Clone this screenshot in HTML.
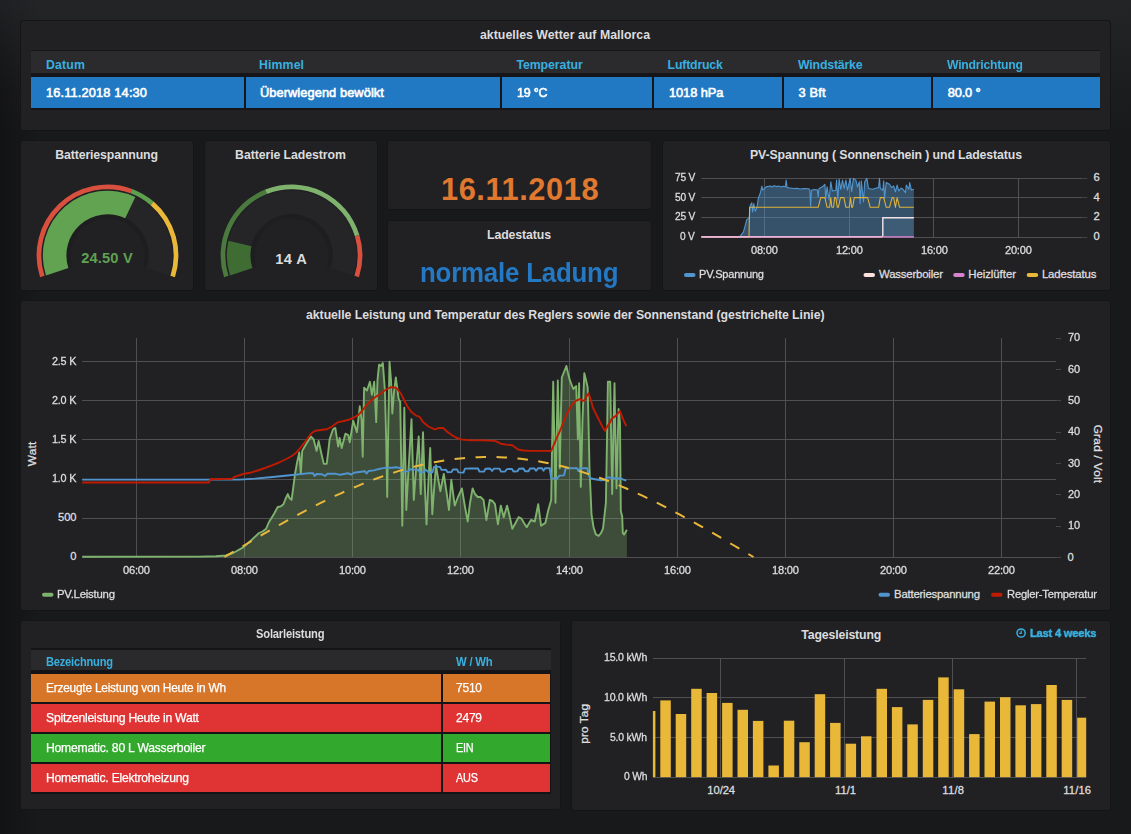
<!DOCTYPE html>
<html lang="de"><head><meta charset="utf-8"><title>Solar Dashboard</title>
<style>
html,body{margin:0;padding:0}
body{width:1131px;height:834px;overflow:hidden;position:relative;background:#17181a;font-family:"Liberation Sans",sans-serif;color:#d8d9da}
.bg{position:absolute;left:0;top:0;width:1131px;height:834px;background:linear-gradient(180deg,#232426 6px,#18191b 135px)}
.bl{position:absolute;left:0;top:0;width:40px;height:834px;background:linear-gradient(90deg,rgba(16,16,18,.62) 0px,rgba(16,16,18,0) 36px);-webkit-mask-image:linear-gradient(180deg,rgba(0,0,0,.25) 0,#000 90px);mask-image:linear-gradient(180deg,rgba(0,0,0,.25) 0,#000 90px)}
.p{position:absolute;background:#212124;border:1px solid #151517;border-radius:3px;box-sizing:border-box}
.t{position:absolute;white-space:pre;line-height:1}
.c{position:absolute}
svg{position:absolute;left:0;top:0;overflow:visible}
</style></head><body><div class="bg"></div><div class="bl"></div>
<div class="p" style="left:20px;top:19.5px;width:1091px;height:111px"></div>
<div class="p" style="left:20px;top:140px;width:174px;height:150.5px"></div>
<div class="p" style="left:204px;top:140px;width:174px;height:150.5px"></div>
<div class="p" style="left:387px;top:140px;width:265px;height:70.2px"></div>
<div class="p" style="left:387px;top:220px;width:265px;height:70.5px"></div>
<div class="p" style="left:662px;top:140px;width:449px;height:150.5px"></div>
<div class="p" style="left:20px;top:300px;width:1091px;height:310.5px"></div>
<div class="p" style="left:20px;top:620px;width:541px;height:190.4px"></div>
<div class="p" style="left:571px;top:620px;width:540px;height:190.6px"></div>
<div class="c" style="left:31px;top:49.6px;width:1069px;height:60.4px;background:#161618"></div>
<div class="c" style="left:31px;top:50.7px;width:1069px;height:22.8px;background:#2b2b2e"></div>
<div class="c" style="left:31px;top:77px;width:213px;height:31px;background:#2179c4"></div>
<div class="c" style="left:246px;top:77px;width:254px;height:31px;background:#2179c4"></div>
<div class="c" style="left:502px;top:77px;width:150px;height:31px;background:#2179c4"></div>
<div class="c" style="left:654.3px;top:77px;width:127.70000000000005px;height:31px;background:#2179c4"></div>
<div class="c" style="left:784.2px;top:77px;width:146.79999999999995px;height:31px;background:#2179c4"></div>
<div class="c" style="left:933.3px;top:77px;width:166.70000000000005px;height:31px;background:#2179c4"></div>
<div class="c" style="left:31px;top:648px;width:519.5px;height:146px;background:#141416"></div>
<div class="c" style="left:31px;top:650px;width:519.5px;height:19.7px;background:#2a2a2d"></div>
<div class="c" style="left:31px;top:674px;width:409.8px;height:28px;background:#d77628"></div>
<div class="c" style="left:443px;top:674px;width:107.4px;height:28px;background:#d77628"></div>
<div class="c" style="left:31px;top:704px;width:409.8px;height:28px;background:#e03434"></div>
<div class="c" style="left:443px;top:704px;width:107.4px;height:28px;background:#e03434"></div>
<div class="c" style="left:31px;top:734px;width:409.8px;height:28px;background:#32a82d"></div>
<div class="c" style="left:443px;top:734px;width:107.4px;height:28px;background:#32a82d"></div>
<div class="c" style="left:31px;top:764px;width:409.8px;height:28px;background:#e03434"></div>
<div class="c" style="left:443px;top:764px;width:107.4px;height:28px;background:#e03434"></div>
<svg width="1131" height="834" viewBox="0 0 1131 834">
<defs><radialGradient id="gsh" cx="50%" cy="50%" r="50%"><stop offset="0.55" stop-color="#1e1e20"/><stop offset="0.62" stop-color="#27272a"/><stop offset="0.93" stop-color="#262629"/><stop offset="1" stop-color="#1f1f22"/></radialGradient></defs>
<path d="M45.97,275.39 A64.7,64.7 0 1 1 169.03,275.39 L146.59,268.10 A41.1,41.1 0 1 0 68.41,268.10 Z" fill="#252528"/>
<path d="M68.41,268.10 A41.1,41.1 0 1 1 146.59,268.10 L142.78,266.86 A37.1,37.1 0 1 0 72.22,266.86 Z" fill="#1e1e21"/>
<path d="M45.97,275.39 A64.7,64.7 0 0 1 135.35,197.00 L125.19,218.30 A41.1,41.1 0 0 0 68.41,268.10 Z" fill="#61a351"/>
<path d="M40.07,277.31 A70.9,70.9 0 0 1 132.10,188.90 L130.47,193.31 A66.2,66.2 0 0 0 44.54,275.86 Z" fill="#d9503f"/>
<path d="M132.10,188.90 A70.9,70.9 0 0 1 153.64,201.57 L150.58,205.14 A66.2,66.2 0 0 0 130.47,193.31 Z" fill="#5fa04e"/>
<path d="M153.64,201.57 A70.9,70.9 0 0 1 174.93,277.31 L170.46,275.86 A66.2,66.2 0 0 0 150.58,205.14 Z" fill="#eab839"/>
<path d="M229.97,275.39 A64.7,64.7 0 1 1 353.03,275.39 L330.59,268.10 A41.1,41.1 0 1 0 252.41,268.10 Z" fill="#252528"/>
<path d="M252.41,268.10 A41.1,41.1 0 1 1 330.59,268.10 L326.78,266.86 A37.1,37.1 0 1 0 256.22,266.86 Z" fill="#1e1e21"/>
<path d="M229.97,275.39 A64.7,64.7 0 0 1 228.46,240.85 L251.45,246.15 A41.1,41.1 0 0 0 252.41,268.10 Z" fill="#3f6c33"/>
<path d="M224.07,277.31 A70.9,70.9 0 0 1 265.17,189.57 L266.92,193.93 A66.2,66.2 0 0 0 228.54,275.86 Z" fill="#4a7a3e"/>
<path d="M265.17,189.57 A70.9,70.9 0 0 1 359.37,234.91 L354.87,236.27 A66.2,66.2 0 0 0 266.92,193.93 Z" fill="#7eb26d"/>
<path d="M359.37,234.91 A70.9,70.9 0 0 1 358.93,277.31 L354.46,275.86 A66.2,66.2 0 0 0 354.87,236.27 Z" fill="#d9503f"/>
<line x1="701.3" y1="178.5" x2="1082.5" y2="178.5" stroke="#505053" stroke-width="1"/><line x1="1082.5" y1="178.5" x2="1087.5" y2="178.5" stroke="#505053" stroke-width="1" opacity=".7"/>
<line x1="701.3" y1="197.5" x2="1082.5" y2="197.5" stroke="#505053" stroke-width="1"/><line x1="1082.5" y1="197.5" x2="1087.5" y2="197.5" stroke="#505053" stroke-width="1" opacity=".7"/>
<line x1="701.3" y1="217.5" x2="1082.5" y2="217.5" stroke="#505053" stroke-width="1"/><line x1="1082.5" y1="217.5" x2="1087.5" y2="217.5" stroke="#505053" stroke-width="1" opacity=".7"/>
<line x1="701.3" y1="237.5" x2="1082.5" y2="237.5" stroke="#505053" stroke-width="1"/><line x1="1082.5" y1="237.5" x2="1087.5" y2="237.5" stroke="#505053" stroke-width="1" opacity=".7"/>
<line x1="764.5" y1="178.1" x2="764.5" y2="237.0" stroke="#505053" stroke-width="1"/>
<line x1="849.5" y1="178.1" x2="849.5" y2="237.0" stroke="#505053" stroke-width="1"/>
<line x1="933.5" y1="178.1" x2="933.5" y2="237.0" stroke="#505053" stroke-width="1"/>
<line x1="1018.5" y1="178.1" x2="1018.5" y2="237.0" stroke="#505053" stroke-width="1"/>
<path d="M701.3,237.0 L738.0,237.0 L740.0,236.4 L743.4,232.2 L746.8,219.6 L749.3,217.9 L750.1,206.1 L751.8,202.8 L752.6,212.0 L753.8,203.6 L755.2,211.2 L756.8,207.8 L758.5,197.7 L760.2,193.5 L761.9,186.0 L762.7,190.2 L765.2,187.6 L767.0,186.6 L770.3,186.0 L772.0,187.0 L774.0,185.6 L776.0,186.6 L778.7,186.0 L781.0,187.0 L783.0,186.2 L785.4,186.8 L786.2,180.1 L787.1,187.6 L790.0,188.0 L793.8,188.5 L797.0,188.2 L800.0,189.0 L804.0,188.6 L808.9,188.8 L809.8,189.8 L810.6,206.1 L811.4,190.2 L814.0,189.6 L817.3,189.8 L818.2,196.9 L819.0,188.5 L822.4,186.8 L824.9,184.3 L825.7,198.6 L827.1,186.8 L829.1,200.2 L830.8,181.8 L832.4,191.0 L835.8,190.2 L836.6,180.1 L837.8,200.2 L839.1,179.2 L840.8,189.3 L842.5,180.1 L844.2,188.5 L845.9,180.1 L847.5,190.2 L850.1,178.4 L851.7,191.8 L853.4,178.4 L855.9,180.1 L857.5,187.0 L859.3,181.8 L860.1,203.6 L861.3,180.9 L863.5,201.9 L864.7,181.8 L866.9,178.4 L868.5,188.5 L872.7,189.3 L875.5,188.2 L878.6,187.6 L879.5,178.4 L880.3,188.5 L882.8,190.2 L883.7,180.9 L884.5,198.6 L886.2,182.6 L889.5,184.3 L891.5,187.5 L893.7,186.0 L895.4,191.8 L897.1,185.1 L898.8,191.0 L901.0,188.0 L903.0,189.3 L905.5,192.7 L906.3,185.1 L908.9,189.3 L909.7,182.6 L911.4,190.2 L913.9,189.3 L913.9,237 L701.3,237 Z" fill="rgba(81,149,206,0.42)"/>
<path d="M882.8,237 L882.8,217.6 L913.9,217.6 L913.9,237 Z" fill="rgba(150,190,230,0.10)"/>
<path d="M701.3,237.0 L738.0,237.0 L740.0,236.4 L743.4,232.2 L746.8,219.6 L749.3,217.9 L750.1,206.1 L751.8,202.8 L752.6,212.0 L753.8,203.6 L755.2,211.2 L756.8,207.8 L758.5,197.7 L760.2,193.5 L761.9,186.0 L762.7,190.2 L765.2,187.6 L767.0,186.6 L770.3,186.0 L772.0,187.0 L774.0,185.6 L776.0,186.6 L778.7,186.0 L781.0,187.0 L783.0,186.2 L785.4,186.8 L786.2,180.1 L787.1,187.6 L790.0,188.0 L793.8,188.5 L797.0,188.2 L800.0,189.0 L804.0,188.6 L808.9,188.8 L809.8,189.8 L810.6,206.1 L811.4,190.2 L814.0,189.6 L817.3,189.8 L818.2,196.9 L819.0,188.5 L822.4,186.8 L824.9,184.3 L825.7,198.6 L827.1,186.8 L829.1,200.2 L830.8,181.8 L832.4,191.0 L835.8,190.2 L836.6,180.1 L837.8,200.2 L839.1,179.2 L840.8,189.3 L842.5,180.1 L844.2,188.5 L845.9,180.1 L847.5,190.2 L850.1,178.4 L851.7,191.8 L853.4,178.4 L855.9,180.1 L857.5,187.0 L859.3,181.8 L860.1,203.6 L861.3,180.9 L863.5,201.9 L864.7,181.8 L866.9,178.4 L868.5,188.5 L872.7,189.3 L875.5,188.2 L878.6,187.6 L879.5,178.4 L880.3,188.5 L882.8,190.2 L883.7,180.9 L884.5,198.6 L886.2,182.6 L889.5,184.3 L891.5,187.5 L893.7,186.0 L895.4,191.8 L897.1,185.1 L898.8,191.0 L901.0,188.0 L903.0,189.3 L905.5,192.7 L906.3,185.1 L908.9,189.3 L909.7,182.6 L911.4,190.2 L913.9,189.3" fill="none" stroke="#5195ce" stroke-width="1.1" stroke-linejoin="round"/>
<path d="M701.3,237.0 L749.0,237.0 L749.6,207.3 L818.2,207.3 L820.7,197.6 L824.9,197.6 L827.1,207.3 L829.6,207.3 L830.8,197.6 L831.8,207.3 L833.6,207.3 L834.6,197.6 L835.8,197.6 L837.3,207.3 L838.3,207.3 L840.5,197.6 L843.9,197.6 L845.9,207.3 L849.2,207.3 L850.6,197.6 L851.6,207.3 L852.6,207.3 L854.3,197.6 L867.7,197.6 L870.2,207.3 L878.6,207.3 L880.3,197.6 L883.7,197.6 L886.2,207.3 L889.5,207.3 L892.1,197.6 L893.7,197.6 L895.4,207.3 L897.1,197.6 L899.6,207.3 L913.9,207.3" fill="none" stroke="#dfb33b" stroke-width="1.05" stroke-linejoin="round"/>
<path d="M882.8,237 L882.8,217.7 L913.9,217.7" fill="none" stroke="#f3e4ea" stroke-width="1.4"/>
<path d="M701.3,236.9 L882.8,236.9" fill="none" stroke="#eeb2d8" stroke-width="1.6"/>
<path d="M883.4,236.9 L913.9,236.9" fill="none" stroke="#c681c6" stroke-width="1.6"/>
<rect x="684" y="272.9" width="11.5" height="4" rx="2" fill="#5195ce"/>
<rect x="863.5" y="272.9" width="11.5" height="4" rx="2" fill="#fce2de"/>
<rect x="953.2" y="272.9" width="11.5" height="4" rx="2" fill="#d683ce"/>
<rect x="1026.7" y="272.9" width="11.5" height="4" rx="2" fill="#eab839"/>
<line x1="82.2" y1="557.5" x2="1056.0" y2="557.5" stroke="#505053" stroke-width="1"/>
<line x1="82.2" y1="518.5" x2="1056.0" y2="518.5" stroke="#505053" stroke-width="1"/>
<line x1="82.2" y1="479.5" x2="1056.0" y2="479.5" stroke="#505053" stroke-width="1"/>
<line x1="82.2" y1="439.5" x2="1056.0" y2="439.5" stroke="#505053" stroke-width="1"/>
<line x1="82.2" y1="400.5" x2="1056.0" y2="400.5" stroke="#505053" stroke-width="1"/>
<line x1="82.2" y1="361.5" x2="1056.0" y2="361.5" stroke="#505053" stroke-width="1"/>
<line x1="1056.0" y1="557.5" x2="1061.0" y2="557.5" stroke="#505053" stroke-width="1" opacity=".8"/>
<line x1="1056.0" y1="526.5" x2="1061.0" y2="526.5" stroke="#505053" stroke-width="1" opacity=".8"/>
<line x1="1056.0" y1="494.5" x2="1061.0" y2="494.5" stroke="#505053" stroke-width="1" opacity=".8"/>
<line x1="1056.0" y1="463.5" x2="1061.0" y2="463.5" stroke="#505053" stroke-width="1" opacity=".8"/>
<line x1="1056.0" y1="432.5" x2="1061.0" y2="432.5" stroke="#505053" stroke-width="1" opacity=".8"/>
<line x1="1056.0" y1="400.5" x2="1061.0" y2="400.5" stroke="#505053" stroke-width="1" opacity=".8"/>
<line x1="1056.0" y1="369.5" x2="1061.0" y2="369.5" stroke="#505053" stroke-width="1" opacity=".8"/>
<line x1="1056.0" y1="338.5" x2="1061.0" y2="338.5" stroke="#505053" stroke-width="1" opacity=".8"/>
<line x1="136.5" y1="338.0" x2="136.5" y2="557.3" stroke="#505053" stroke-width="1"/>
<line x1="244.5" y1="338.0" x2="244.5" y2="557.3" stroke="#505053" stroke-width="1"/>
<line x1="352.5" y1="338.0" x2="352.5" y2="557.3" stroke="#505053" stroke-width="1"/>
<line x1="460.5" y1="338.0" x2="460.5" y2="557.3" stroke="#505053" stroke-width="1"/>
<line x1="569.5" y1="338.0" x2="569.5" y2="557.3" stroke="#505053" stroke-width="1"/>
<line x1="677.5" y1="338.0" x2="677.5" y2="557.3" stroke="#505053" stroke-width="1"/>
<line x1="785.5" y1="338.0" x2="785.5" y2="557.3" stroke="#505053" stroke-width="1"/>
<line x1="893.5" y1="338.0" x2="893.5" y2="557.3" stroke="#505053" stroke-width="1"/>
<line x1="1001.5" y1="338.0" x2="1001.5" y2="557.3" stroke="#505053" stroke-width="1"/>
<path d="M82.2,556.8 L200.0,556.6 L216.0,556.2 L225.9,555.5 L234.0,552.5 L243.2,547.4 L251.0,540.5 L259.0,533.0 L262.5,531.5 L266.2,528.7 L269.0,522.0 L272.0,517.2 L274.5,513.0 L277.7,507.0 L280.5,506.5 L283.5,504.2 L285.5,499.0 L287.8,494.1 L289.5,498.0 L291.6,499.9 L293.2,488.0 L295.0,474.0 L297.2,462.0 L299.3,452.4 L300.8,474.0 L302.2,450.9 L305.0,446.0 L308.0,441.0 L310.9,436.5 L313.7,439.4 L316.6,450.9 L318.6,440.9 L321.0,452.0 L323.8,463.9 L326.7,463.9 L328.2,452.0 L329.6,439.4 L333.0,429.3 L335.3,427.9 L338.2,446.6 L339.6,438.0 L341.7,448.0 L343.5,441.0 L345.4,433.7 L348.3,435.1 L349.7,442.3 L353.2,420.7 L356.9,432.2 L359.8,406.3 L361.6,420.0 L362.7,456.7 L364.1,387.6 L367.0,390.5 L369.9,381.8 L371.9,394.8 L374.2,381.8 L376.2,422.1 L377.5,380.0 L379.1,364.6 L381.0,366.0 L382.8,363.1 L384.9,390.5 L386.2,440.0 L387.2,497.0 L388.4,420.0 L389.5,361.7 L391.0,380.0 L392.3,413.5 L394.0,392.0 L395.8,377.5 L398.7,399.1 L400.2,402.0 L402.3,525.8 L404.3,407.7 L406.3,510.0 L408.5,470.0 L411.5,419.3 L413.8,499.9 L416.0,470.0 L418.7,436.5 L420.7,494.1 L423.0,432.2 L424.6,480.0 L426.5,524.4 L428.5,480.0 L430.2,448.0 L432.3,514.3 L434.0,490.0 L436.0,465.3 L438.0,478.0 L440.3,491.2 L443.8,474.0 L446.5,492.0 L449.0,510.0 L451.3,479.7 L454.7,505.6 L458.0,497.0 L461.9,488.4 L465.0,507.0 L467.7,521.5 L470.0,503.0 L472.6,488.4 L475.0,494.0 L477.7,497.0 L480.5,497.0 L483.5,499.9 L486.4,520.0 L489.8,499.9 L492.5,501.0 L495.0,504.2 L497.9,524.4 L500.8,505.6 L503.7,517.2 L507.1,505.6 L509.8,517.0 L512.3,528.7 L515.5,523.0 L518.6,517.2 L521.5,518.6 L524.0,523.0 L526.7,527.2 L531.0,520.0 L534.8,521.5 L538.2,504.2 L541.1,525.8 L545.4,522.9 L548.3,510.0 L551.2,499.9 L552.2,440.0 L553.2,381.8 L554.4,440.0 L555.5,502.8 L556.6,440.0 L557.8,380.4 L559.8,468.2 L560.8,420.0 L561.8,377.5 L564.0,372.0 L566.4,366.0 L568.0,373.0 L569.9,380.4 L573.3,389.0 L576.2,386.1 L577.9,439.4 L579.1,383.3 L580.8,486.9 L582.5,420.0 L584.3,373.2 L586.0,380.0 L587.7,387.6 L589.5,468.2 L591.5,514.3 L593.5,527.0 L595.8,534.4 L598.7,535.9 L601.0,533.0 L603.0,528.7 L605.9,502.8 L607.0,440.0 L607.9,381.8 L610.2,381.8 L611.2,440.0 L612.2,494.1 L613.3,440.0 L614.5,383.3 L615.5,440.0 L616.5,488.4 L617.5,450.3 L618.6,409.0 L620.0,422.8 L620.8,511.0 L622.2,516.6 L622.8,533.1 L624.1,534.5 L626.9,529.8 L626.9,557 L82.2,557 Z" fill="rgba(126,178,109,0.31)"/>
<path d="M82.2,556.8 L200.0,556.6 L216.0,556.2 L225.9,555.5 L234.0,552.5 L243.2,547.4 L251.0,540.5 L259.0,533.0 L262.5,531.5 L266.2,528.7 L269.0,522.0 L272.0,517.2 L274.5,513.0 L277.7,507.0 L280.5,506.5 L283.5,504.2 L285.5,499.0 L287.8,494.1 L289.5,498.0 L291.6,499.9 L293.2,488.0 L295.0,474.0 L297.2,462.0 L299.3,452.4 L300.8,474.0 L302.2,450.9 L305.0,446.0 L308.0,441.0 L310.9,436.5 L313.7,439.4 L316.6,450.9 L318.6,440.9 L321.0,452.0 L323.8,463.9 L326.7,463.9 L328.2,452.0 L329.6,439.4 L333.0,429.3 L335.3,427.9 L338.2,446.6 L339.6,438.0 L341.7,448.0 L343.5,441.0 L345.4,433.7 L348.3,435.1 L349.7,442.3 L353.2,420.7 L356.9,432.2 L359.8,406.3 L361.6,420.0 L362.7,456.7 L364.1,387.6 L367.0,390.5 L369.9,381.8 L371.9,394.8 L374.2,381.8 L376.2,422.1 L377.5,380.0 L379.1,364.6 L381.0,366.0 L382.8,363.1 L384.9,390.5 L386.2,440.0 L387.2,497.0 L388.4,420.0 L389.5,361.7 L391.0,380.0 L392.3,413.5 L394.0,392.0 L395.8,377.5 L398.7,399.1 L400.2,402.0 L402.3,525.8 L404.3,407.7 L406.3,510.0 L408.5,470.0 L411.5,419.3 L413.8,499.9 L416.0,470.0 L418.7,436.5 L420.7,494.1 L423.0,432.2 L424.6,480.0 L426.5,524.4 L428.5,480.0 L430.2,448.0 L432.3,514.3 L434.0,490.0 L436.0,465.3 L438.0,478.0 L440.3,491.2 L443.8,474.0 L446.5,492.0 L449.0,510.0 L451.3,479.7 L454.7,505.6 L458.0,497.0 L461.9,488.4 L465.0,507.0 L467.7,521.5 L470.0,503.0 L472.6,488.4 L475.0,494.0 L477.7,497.0 L480.5,497.0 L483.5,499.9 L486.4,520.0 L489.8,499.9 L492.5,501.0 L495.0,504.2 L497.9,524.4 L500.8,505.6 L503.7,517.2 L507.1,505.6 L509.8,517.0 L512.3,528.7 L515.5,523.0 L518.6,517.2 L521.5,518.6 L524.0,523.0 L526.7,527.2 L531.0,520.0 L534.8,521.5 L538.2,504.2 L541.1,525.8 L545.4,522.9 L548.3,510.0 L551.2,499.9 L552.2,440.0 L553.2,381.8 L554.4,440.0 L555.5,502.8 L556.6,440.0 L557.8,380.4 L559.8,468.2 L560.8,420.0 L561.8,377.5 L564.0,372.0 L566.4,366.0 L568.0,373.0 L569.9,380.4 L573.3,389.0 L576.2,386.1 L577.9,439.4 L579.1,383.3 L580.8,486.9 L582.5,420.0 L584.3,373.2 L586.0,380.0 L587.7,387.6 L589.5,468.2 L591.5,514.3 L593.5,527.0 L595.8,534.4 L598.7,535.9 L601.0,533.0 L603.0,528.7 L605.9,502.8 L607.0,440.0 L607.9,381.8 L610.2,381.8 L611.2,440.0 L612.2,494.1 L613.3,440.0 L614.5,383.3 L615.5,440.0 L616.5,488.4 L617.5,450.3 L618.6,409.0 L620.0,422.8 L620.8,511.0 L622.2,516.6 L622.8,533.1 L624.1,534.5 L626.9,529.8" fill="none" stroke="#7eb26d" stroke-width="1.9" stroke-linejoin="round"/>
<path d="M82.2,479.6 L240.0,479.6 L255.0,478.6 L270.0,477.2 L285.0,475.8 L295.0,474.8 L309.4,473.1 L313.0,473.2 L314.5,476.0 L316.5,474.0 L322.0,474.2 L325.0,476.0 L327.5,473.8 L335.0,473.6 L340.0,474.8 L344.0,474.0 L348.0,473.2 L351.0,474.6 L354.0,472.8 L361.0,471.7 L365.0,471.2 L366.5,473.6 L368.5,471.0 L374.0,470.4 L378.0,469.2 L382.0,468.4 L387.0,467.6 L392.0,467.8 L396.0,467.2 L401.6,468.2 L403.5,471.6 L408.0,471.4 L410.0,469.2 L414.4,469.6 L418.0,469.8 L420.0,472.4 L423.5,472.2 L425.5,469.6 L428.8,472.5 L432.5,472.3 L434.0,467.0 L436.0,466.8 L440.0,466.9 L441.5,469.9 L446.0,469.7 L447.5,472.2 L451.5,472.0 L453.0,469.5 L457.0,469.4 L458.5,472.4 L463.5,472.6 L465.0,468.6 L470.0,468.4 L478.0,468.5 L479.5,471.6 L484.0,471.6 L485.5,468.7 L490.0,468.5 L492.0,470.9 L494.0,468.6 L499.5,468.6 L501.0,471.6 L505.0,471.5 L507.0,469.1 L512.0,468.9 L513.5,471.5 L517.5,471.3 L519.0,468.7 L523.5,468.5 L525.0,471.2 L528.5,471.2 L530.0,468.5 L534.5,468.5 L536.0,470.8 L538.0,468.3 L542.0,468.3 L543.5,470.7 L545.0,468.3 L549.7,468.2 L551.2,478.3 L557.0,478.6 L559.5,475.6 L564.1,475.4 L565.5,469.0 L567.0,468.2 L577.0,468.2 L578.4,471.0 L580.0,468.2 L587.2,468.2 L588.6,474.0 L590.0,478.3 L595.0,479.2 L601.6,480.3 L604.5,479.8 L607.3,477.4 L612.0,477.8 L615.0,478.5 L620.0,478.3 L626.3,480.7" fill="none" stroke="#5195ce" stroke-width="1.9" stroke-linejoin="round"/>
<path d="M82.2,482.5 L209.0,482.5 L210.5,479.2 L232.0,478.8 L234.6,476.8 L243.2,474.0 L250.0,472.8 L257.6,470.5 L265.0,468.0 L272.0,465.3 L279.0,462.5 L286.4,459.0 L291.0,456.5 L295.0,453.8 L299.5,449.0 L303.7,443.7 L307.5,438.5 L310.9,433.7 L315.2,430.8 L321.0,430.0 L326.7,429.3 L332.0,426.5 L338.2,422.1 L344.0,421.0 L349.7,419.3 L354.0,417.5 L358.4,414.9 L362.0,411.0 L365.6,406.3 L369.0,402.5 L372.8,399.1 L377.0,396.0 L381.4,393.3 L384.5,390.5 L387.2,389.0 L391.0,387.2 L395.8,387.6 L398.5,390.5 L401.6,394.8 L404.3,400.5 L407.3,406.3 L411.5,412.1 L416.0,415.5 L420.0,417.2 L423.0,422.1 L428.5,426.5 L434.6,429.3 L439.0,428.0 L443.2,427.9 L447.5,432.0 L451.8,435.1 L456.0,437.5 L460.5,439.4 L470.0,440.2 L483.0,440.4 L495.0,440.9 L500.8,443.7 L506.5,444.6 L512.3,445.2 L518.0,449.5 L523.5,450.5 L529.6,450.9 L540.0,450.9 L551.2,450.9 L555.5,440.9 L558.5,434.0 L561.2,427.9 L564.0,420.5 L567.0,413.5 L570.0,408.0 L572.8,403.4 L576.5,400.5 L580.0,399.1 L582.3,400.8 L584.3,400.5 L586.5,396.5 L588.6,393.3 L590.8,400.0 L592.9,407.7 L596.5,415.0 L600.1,422.1 L602.6,427.0 L605.0,430.8 L607.5,426.0 L610.2,422.1 L611.7,418.6 L615.9,415.9 L618.0,413.0 L620.0,411.2 L622.8,418.6 L626.3,426.1" fill="none" stroke="#bf1b00" stroke-width="1.9" stroke-linejoin="round"/>
<path d="M224.5,557.0 L229.8,553.9 L235.1,550.7 L240.4,547.6 L245.7,544.5 L250.9,541.4 L256.2,538.3 L261.5,535.2 L266.8,532.1 L272.1,529.1 L277.4,526.1 L282.7,523.1 L288.0,520.2 L293.3,517.3 L298.6,514.4 L303.9,511.6 L309.1,508.8 L314.4,506.1 L319.7,503.4 L325.0,500.8 L330.3,498.2 L335.6,495.7 L340.9,493.3 L346.2,490.9 L351.5,488.5 L356.8,486.3 L362.0,484.1 L367.3,482.0 L372.6,479.9 L377.9,478.0 L383.2,476.1 L388.5,474.3 L393.8,472.6 L399.1,470.9 L404.4,469.4 L409.6,467.9 L414.9,466.5 L420.2,465.2 L425.5,464.0 L430.8,462.9 L436.1,461.9 L441.4,461.0 L446.7,460.1 L452.0,459.4 L457.3,458.8 L462.6,458.2 L467.8,457.8 L473.1,457.4 L478.4,457.2 L483.7,457.0 L489.0,457.0 L494.3,457.0 L499.6,457.2 L504.9,457.4 L510.2,457.8 L515.5,458.2 L520.7,458.8 L526.0,459.4 L531.3,460.1 L536.6,461.0 L541.9,461.9 L547.2,462.9 L552.5,464.0 L557.8,465.2 L563.1,466.5 L568.4,467.9 L573.6,469.4 L578.9,470.9 L584.2,472.6 L589.5,474.3 L594.8,476.1 L600.1,478.0 L605.4,479.9 L610.7,482.0 L616.0,484.1 L621.2,486.3 L626.5,488.5 L631.8,490.9 L637.1,493.3 L642.4,495.7 L647.7,498.2 L653.0,500.8 L658.3,503.4 L663.6,506.1 L668.9,508.8 L674.1,511.6 L679.4,514.4 L684.7,517.3 L690.0,520.2 L695.3,523.1 L700.6,526.1 L705.9,529.1 L711.2,532.1 L716.5,535.2 L721.8,538.3 L727.0,541.4 L732.3,544.5 L737.6,547.6 L742.9,550.7 L748.2,553.9 L753.5,557.0" fill="none" stroke="#eab839" stroke-width="2" stroke-dasharray="10.5,10.5"/>
<rect x="42" y="592.7" width="11.5" height="4" rx="2" fill="#7eb26d"/>
<rect x="878.5" y="592.7" width="11.5" height="4" rx="2" fill="#5195ce"/>
<rect x="991" y="592.7" width="11.5" height="4" rx="2" fill="#bf1b00"/>
<line x1="652.9" y1="777.5" x2="1086.2" y2="777.5" stroke="#505053" stroke-width="1"/>
<line x1="652.9" y1="737.5" x2="1086.2" y2="737.5" stroke="#505053" stroke-width="1"/>
<line x1="652.9" y1="697.5" x2="1086.2" y2="697.5" stroke="#505053" stroke-width="1"/>
<line x1="652.9" y1="658.5" x2="1086.2" y2="658.5" stroke="#505053" stroke-width="1"/>
<line x1="720.5" y1="658.3" x2="720.5" y2="777.1" stroke="#505053" stroke-width="1"/>
<line x1="844.5" y1="658.3" x2="844.5" y2="777.1" stroke="#505053" stroke-width="1"/>
<line x1="952.5" y1="658.3" x2="952.5" y2="777.1" stroke="#505053" stroke-width="1"/>
<line x1="1076.5" y1="658.3" x2="1076.5" y2="777.1" stroke="#505053" stroke-width="1"/>
<rect x="652.9" y="711" width="2.5" height="66.1" fill="#eab839"/>
<rect x="660.3" y="700.4" width="10.5" height="76.7" fill="#eab839"/>
<rect x="675.7" y="714" width="10.5" height="63.1" fill="#eab839"/>
<rect x="691.2" y="688.8" width="10.5" height="88.3" fill="#eab839"/>
<rect x="706.6" y="693" width="10.5" height="84.1" fill="#eab839"/>
<rect x="722.1" y="702.9" width="10.5" height="74.2" fill="#eab839"/>
<rect x="737.5" y="709.8" width="10.5" height="67.3" fill="#eab839"/>
<rect x="752.9" y="720.9" width="10.5" height="56.2" fill="#eab839"/>
<rect x="768.4" y="765.5" width="10.5" height="11.6" fill="#eab839"/>
<rect x="783.8" y="720.7" width="10.5" height="56.4" fill="#eab839"/>
<rect x="799.3" y="742.2" width="10.5" height="34.9" fill="#eab839"/>
<rect x="814.7" y="694.2" width="10.5" height="82.9" fill="#eab839"/>
<rect x="830.1" y="722.9" width="10.5" height="54.2" fill="#eab839"/>
<rect x="845.6" y="743.7" width="10.5" height="33.4" fill="#eab839"/>
<rect x="861.0" y="736.3" width="10.5" height="40.8" fill="#eab839"/>
<rect x="876.5" y="688.8" width="10.5" height="88.3" fill="#eab839"/>
<rect x="891.9" y="707.1" width="10.5" height="70.0" fill="#eab839"/>
<rect x="907.3" y="724.4" width="10.5" height="52.7" fill="#eab839"/>
<rect x="922.8" y="699.9" width="10.5" height="77.2" fill="#eab839"/>
<rect x="938.2" y="677.4" width="10.5" height="99.7" fill="#eab839"/>
<rect x="953.7" y="689.3" width="10.5" height="87.8" fill="#eab839"/>
<rect x="969.1" y="734.1" width="10.5" height="43.0" fill="#eab839"/>
<rect x="984.5" y="701.6" width="10.5" height="75.5" fill="#eab839"/>
<rect x="1000.0" y="697.2" width="10.5" height="79.9" fill="#eab839"/>
<rect x="1015.4" y="705.3" width="10.5" height="71.8" fill="#eab839"/>
<rect x="1030.9" y="704.1" width="10.5" height="73.0" fill="#eab839"/>
<rect x="1046.3" y="685" width="10.5" height="92.1" fill="#eab839"/>
<rect x="1061.7" y="699.9" width="10.5" height="77.2" fill="#eab839"/>
<rect x="1077.2" y="717.7" width="9.0" height="59.4" fill="#eab839"/>
<circle cx="1021.1" cy="633" r="4.1" fill="none" stroke="#38b0e0" stroke-width="1.5"/><path d="M1021.2,630.5 L1021.2,633.3 L1019.3,633.3" fill="none" stroke="#38b0e0" stroke-width="1.2"/>
</svg>
<div class="t" style="left:480.00px;top:29.15px;font-size:12.3px;color:#dcdcde;letter-spacing:0.026px;font-weight:700;">aktuelles Wetter auf Mallorca</div>
<div class="t" style="left:55.25px;top:149.15px;font-size:12.3px;color:#dcdcde;letter-spacing:-0.123px;font-weight:700;">Batteriespannung</div>
<div class="t" style="left:235.10px;top:149.15px;font-size:12.3px;color:#dcdcde;letter-spacing:-0.075px;font-weight:700;">Batterie Ladestrom</div>
<div class="t" style="left:487.00px;top:229.15px;font-size:12.3px;color:#dcdcde;letter-spacing:-0.102px;font-weight:700;">Ladestatus</div>
<div class="t" style="left:750.00px;top:149.35px;font-size:12.3px;color:#dcdcde;letter-spacing:-0.112px;font-weight:700;">PV-Spannung ( Sonnenschein ) und Ladestatus</div>
<div class="t" style="left:306.05px;top:308.95px;font-size:12.3px;color:#dcdcde;letter-spacing:-0.062px;font-weight:700;">aktuelle Leistung und Temperatur des Reglers sowie der Sonnenstand (gestrichelte Linie)</div>
<div class="t" style="left:255.55px;top:628.15px;font-size:12.3px;color:#dcdcde;letter-spacing:-0.220px;font-weight:700;transform-origin:0 50%;transform:scaleX(0.9101);">Solarleistung</div>
<div class="t" style="left:801.30px;top:629.15px;font-size:12.3px;color:#dcdcde;letter-spacing:-0.148px;font-weight:700;">Tagesleistung</div>
<div class="t" style="left:46.00px;top:59.35px;font-size:12.3px;color:#38b0e0;letter-spacing:0.184px;font-weight:700;">Datum</div>
<div class="t" style="left:259.00px;top:59.35px;font-size:12.3px;color:#38b0e0;letter-spacing:0.116px;font-weight:700;">Himmel</div>
<div class="t" style="left:516.40px;top:59.35px;font-size:12.3px;color:#38b0e0;letter-spacing:-0.050px;font-weight:700;">Temperatur</div>
<div class="t" style="left:667.60px;top:59.35px;font-size:12.3px;color:#38b0e0;letter-spacing:-0.188px;font-weight:700;">Luftdruck</div>
<div class="t" style="left:798.00px;top:59.35px;font-size:12.3px;color:#38b0e0;letter-spacing:-0.176px;font-weight:700;">Windstärke</div>
<div class="t" style="left:946.90px;top:59.35px;font-size:12.3px;color:#38b0e0;letter-spacing:-0.220px;font-weight:700;transform-origin:0 50%;transform:scaleX(0.9908);">Windrichtung</div>
<div class="t" style="left:46.00px;top:87.00px;font-size:12.8px;color:#ffffff;letter-spacing:0.154px;-webkit-text-stroke:0.6px #ffffff;">16.11.2018 14:30</div>
<div class="t" style="left:259.90px;top:87.00px;font-size:12.8px;color:#ffffff;letter-spacing:0.091px;-webkit-text-stroke:0.6px #ffffff;">Überwiegend bewölkt</div>
<div class="t" style="left:517.20px;top:87.00px;font-size:12.8px;color:#ffffff;letter-spacing:-0.220px;-webkit-text-stroke:0.6px #ffffff;transform-origin:0 50%;transform:scaleX(0.9752);">19 °C</div>
<div class="t" style="left:669.00px;top:87.00px;font-size:12.8px;color:#ffffff;letter-spacing:-0.057px;-webkit-text-stroke:0.6px #ffffff;">1018 hPa</div>
<div class="t" style="left:798.60px;top:87.00px;font-size:12.8px;color:#ffffff;letter-spacing:0.168px;-webkit-text-stroke:0.6px #ffffff;">3 Bft</div>
<div class="t" style="left:947.80px;top:87.00px;font-size:12.8px;color:#ffffff;letter-spacing:-0.159px;-webkit-text-stroke:0.6px #ffffff;">80.0 °</div>
<div class="t" style="left:81.15px;top:251.20px;font-size:14.6px;color:#60a052;letter-spacing:0.198px;font-weight:700;">24.50 V</div>
<div class="t" style="left:275.25px;top:251.50px;font-size:14.6px;color:#dcdcdd;letter-spacing:0.401px;font-weight:700;">14 A</div>
<div class="t" style="left:440.95px;top:175.20px;font-size:30.8px;color:#e0782f;letter-spacing:0.585px;font-weight:700;">16.11.2018</div>
<div class="t" style="left:420.25px;top:258.50px;font-size:27.4px;color:#2479c4;letter-spacing:-0.220px;font-weight:700;transform-origin:0 50%;transform:scaleX(0.9443);">normale Ladung</div>
<div class="t" style="left:674.50px;top:172.20px;font-size:11.2px;color:#dddddf;letter-spacing:-0.220px;-webkit-text-stroke:0.3px #dddddf;transform-origin:0 50%;transform:scaleX(0.9125);">75 V</div>
<div class="t" style="left:674.50px;top:191.60px;font-size:11.2px;color:#dddddf;letter-spacing:-0.220px;-webkit-text-stroke:0.3px #dddddf;transform-origin:0 50%;transform:scaleX(0.9125);">50 V</div>
<div class="t" style="left:674.50px;top:211.40px;font-size:11.2px;color:#dddddf;letter-spacing:-0.220px;-webkit-text-stroke:0.3px #dddddf;transform-origin:0 50%;transform:scaleX(0.9125);">25 V</div>
<div class="t" style="left:680.00px;top:231.10px;font-size:11.2px;color:#dddddf;letter-spacing:-0.220px;-webkit-text-stroke:0.3px #dddddf;transform-origin:0 50%;transform:scaleX(0.9109);">0 V</div>
<div class="t" style="left:1093.40px;top:172.20px;font-size:11.2px;color:#dddddf;letter-spacing:0.066px;-webkit-text-stroke:0.3px #dddddf;">6</div>
<div class="t" style="left:1093.40px;top:191.60px;font-size:11.2px;color:#dddddf;letter-spacing:0.066px;-webkit-text-stroke:0.3px #dddddf;">4</div>
<div class="t" style="left:1093.40px;top:211.40px;font-size:11.2px;color:#dddddf;letter-spacing:0.066px;-webkit-text-stroke:0.3px #dddddf;">2</div>
<div class="t" style="left:1093.40px;top:231.10px;font-size:11.2px;color:#dddddf;letter-spacing:0.066px;-webkit-text-stroke:0.3px #dddddf;">0</div>
<div class="t" style="left:751.10px;top:244.70px;font-size:11.2px;color:#dddddf;letter-spacing:-0.220px;-webkit-text-stroke:0.3px #dddddf;transform-origin:0 50%;transform:scaleX(0.9882);">08:00</div>
<div class="t" style="left:836.20px;top:244.70px;font-size:11.2px;color:#dddddf;letter-spacing:-0.220px;-webkit-text-stroke:0.3px #dddddf;transform-origin:0 50%;transform:scaleX(0.9882);">12:00</div>
<div class="t" style="left:920.60px;top:244.70px;font-size:11.2px;color:#dddddf;letter-spacing:-0.220px;-webkit-text-stroke:0.3px #dddddf;transform-origin:0 50%;transform:scaleX(0.9882);">16:00</div>
<div class="t" style="left:1005.40px;top:244.70px;font-size:11.2px;color:#dddddf;letter-spacing:-0.220px;-webkit-text-stroke:0.3px #dddddf;transform-origin:0 50%;transform:scaleX(0.9882);">20:00</div>
<div class="t" style="left:699.10px;top:269.30px;font-size:11.4px;color:#dddddf;letter-spacing:-0.220px;-webkit-text-stroke:0.3px #dddddf;transform-origin:0 50%;transform:scaleX(0.9692);">PV.Spannung</div>
<div class="t" style="left:879.00px;top:269.30px;font-size:11.4px;color:#dddddf;letter-spacing:-0.186px;-webkit-text-stroke:0.3px #dddddf;">Wasserboiler</div>
<div class="t" style="left:968.20px;top:269.30px;font-size:11.4px;color:#dddddf;letter-spacing:-0.036px;-webkit-text-stroke:0.3px #dddddf;">Heizlüfter</div>
<div class="t" style="left:1041.90px;top:269.30px;font-size:11.4px;color:#dddddf;letter-spacing:-0.126px;-webkit-text-stroke:0.3px #dddddf;">Ladestatus</div>
<div class="t" style="left:70.20px;top:551.40px;font-size:11.2px;color:#dddddf;letter-spacing:0.066px;-webkit-text-stroke:0.3px #dddddf;">0</div>
<div class="t" style="left:58.00px;top:512.30px;font-size:11.2px;color:#dddddf;letter-spacing:-0.086px;-webkit-text-stroke:0.3px #dddddf;">500</div>
<div class="t" style="left:52.10px;top:473.20px;font-size:11.2px;color:#dddddf;letter-spacing:-0.220px;-webkit-text-stroke:0.3px #dddddf;transform-origin:0 50%;transform:scaleX(0.9665);">1.0 K</div>
<div class="t" style="left:52.10px;top:434.10px;font-size:11.2px;color:#dddddf;letter-spacing:-0.220px;-webkit-text-stroke:0.3px #dddddf;transform-origin:0 50%;transform:scaleX(0.9665);">1.5 K</div>
<div class="t" style="left:52.10px;top:395.00px;font-size:11.2px;color:#dddddf;letter-spacing:-0.220px;-webkit-text-stroke:0.3px #dddddf;transform-origin:0 50%;transform:scaleX(0.9665);">2.0 K</div>
<div class="t" style="left:52.10px;top:355.90px;font-size:11.2px;color:#dddddf;letter-spacing:-0.220px;-webkit-text-stroke:0.3px #dddddf;transform-origin:0 50%;transform:scaleX(0.9665);">2.5 K</div>
<div class="t" style="left:1067.50px;top:551.50px;font-size:11.2px;color:#dddddf;letter-spacing:0.066px;-webkit-text-stroke:0.3px #dddddf;">0</div>
<div class="t" style="left:1067.50px;top:520.21px;font-size:11.2px;color:#dddddf;letter-spacing:-0.220px;-webkit-text-stroke:0.3px #dddddf;transform-origin:0 50%;transform:scaleX(0.9809);">10</div>
<div class="t" style="left:1067.50px;top:488.92px;font-size:11.2px;color:#dddddf;letter-spacing:-0.220px;-webkit-text-stroke:0.3px #dddddf;transform-origin:0 50%;transform:scaleX(0.9809);">20</div>
<div class="t" style="left:1067.50px;top:457.63px;font-size:11.2px;color:#dddddf;letter-spacing:-0.220px;-webkit-text-stroke:0.3px #dddddf;transform-origin:0 50%;transform:scaleX(0.9809);">30</div>
<div class="t" style="left:1067.50px;top:426.34px;font-size:11.2px;color:#dddddf;letter-spacing:-0.220px;-webkit-text-stroke:0.3px #dddddf;transform-origin:0 50%;transform:scaleX(0.9809);">40</div>
<div class="t" style="left:1067.50px;top:395.05px;font-size:11.2px;color:#dddddf;letter-spacing:-0.220px;-webkit-text-stroke:0.3px #dddddf;transform-origin:0 50%;transform:scaleX(0.9809);">50</div>
<div class="t" style="left:1067.50px;top:363.76px;font-size:11.2px;color:#dddddf;letter-spacing:-0.220px;-webkit-text-stroke:0.3px #dddddf;transform-origin:0 50%;transform:scaleX(0.9809);">60</div>
<div class="t" style="left:1067.50px;top:332.47px;font-size:11.2px;color:#dddddf;letter-spacing:-0.220px;-webkit-text-stroke:0.3px #dddddf;transform-origin:0 50%;transform:scaleX(0.9809);">70</div>
<div class="t" style="left:122.80px;top:564.70px;font-size:11.2px;color:#dddddf;letter-spacing:-0.220px;-webkit-text-stroke:0.3px #dddddf;transform-origin:0 50%;transform:scaleX(0.9956);">06:00</div>
<div class="t" style="left:231.00px;top:564.70px;font-size:11.2px;color:#dddddf;letter-spacing:-0.220px;-webkit-text-stroke:0.3px #dddddf;transform-origin:0 50%;transform:scaleX(0.9956);">08:00</div>
<div class="t" style="left:339.20px;top:564.70px;font-size:11.2px;color:#dddddf;letter-spacing:-0.220px;-webkit-text-stroke:0.3px #dddddf;transform-origin:0 50%;transform:scaleX(0.9956);">10:00</div>
<div class="t" style="left:447.40px;top:564.70px;font-size:11.2px;color:#dddddf;letter-spacing:-0.220px;-webkit-text-stroke:0.3px #dddddf;transform-origin:0 50%;transform:scaleX(0.9956);">12:00</div>
<div class="t" style="left:555.60px;top:564.70px;font-size:11.2px;color:#dddddf;letter-spacing:-0.220px;-webkit-text-stroke:0.3px #dddddf;transform-origin:0 50%;transform:scaleX(0.9956);">14:00</div>
<div class="t" style="left:663.80px;top:564.70px;font-size:11.2px;color:#dddddf;letter-spacing:-0.220px;-webkit-text-stroke:0.3px #dddddf;transform-origin:0 50%;transform:scaleX(0.9956);">16:00</div>
<div class="t" style="left:772.00px;top:564.70px;font-size:11.2px;color:#dddddf;letter-spacing:-0.220px;-webkit-text-stroke:0.3px #dddddf;transform-origin:0 50%;transform:scaleX(0.9956);">18:00</div>
<div class="t" style="left:880.20px;top:564.70px;font-size:11.2px;color:#dddddf;letter-spacing:-0.220px;-webkit-text-stroke:0.3px #dddddf;transform-origin:0 50%;transform:scaleX(0.9956);">20:00</div>
<div class="t" style="left:988.40px;top:564.70px;font-size:11.2px;color:#dddddf;letter-spacing:-0.220px;-webkit-text-stroke:0.3px #dddddf;transform-origin:0 50%;transform:scaleX(0.9956);">22:00</div>
<div class="t" style="left:21.05px;top:448.10px;font-size:11.8px;color:#dddddf;letter-spacing:0.224px;-webkit-text-stroke:0.3px #dddddf;width:24.50px;transform-origin:12.25px 5.90px;transform:rotate(-90deg) scaleX(1.0000);">Watt</div>
<div class="t" style="left:1068.25px;top:448.30px;font-size:11.8px;color:#dddddf;letter-spacing:0.275px;-webkit-text-stroke:0.3px #dddddf;width:58.50px;transform-origin:29.25px 5.90px;transform:rotate(90deg) scaleX(1.0000);">Grad / Volt</div>
<div class="t" style="left:56.80px;top:589.00px;font-size:11.4px;color:#dddddf;letter-spacing:-0.220px;-webkit-text-stroke:0.3px #dddddf;transform-origin:0 50%;transform:scaleX(0.9967);">PV.Leistung</div>
<div class="t" style="left:894.00px;top:589.00px;font-size:11.4px;color:#dddddf;letter-spacing:-0.220px;-webkit-text-stroke:0.3px #dddddf;transform-origin:0 50%;transform:scaleX(1.0000);">Batteriespannung</div>
<div class="t" style="left:1006.50px;top:589.00px;font-size:11.4px;color:#dddddf;letter-spacing:-0.220px;-webkit-text-stroke:0.3px #dddddf;transform-origin:0 50%;transform:scaleX(0.9842);">Regler-Temperatur</div>
<div class="t" style="left:46.00px;top:655.65px;font-size:12.3px;color:#38b0e0;letter-spacing:-0.220px;font-weight:700;transform-origin:0 50%;transform:scaleX(0.9014);">Bezeichnung</div>
<div class="t" style="left:455.50px;top:655.65px;font-size:12.3px;color:#38b0e0;letter-spacing:-0.220px;font-weight:700;transform-origin:0 50%;transform:scaleX(0.9202);">W / Wh</div>
<div class="t" style="left:46.00px;top:682.00px;font-size:12.4px;color:#ffffff;letter-spacing:-0.220px;-webkit-text-stroke:0.25px #ffffff;transform-origin:0 50%;transform:scaleX(0.9580);">Erzeugte Leistung von Heute in Wh</div>
<div class="t" style="left:456.30px;top:682.00px;font-size:12.4px;color:#ffffff;letter-spacing:-0.220px;-webkit-text-stroke:0.25px #ffffff;transform-origin:0 50%;transform:scaleX(0.9659);">7510</div>
<div class="t" style="left:46.00px;top:711.80px;font-size:12.4px;color:#ffffff;letter-spacing:-0.220px;-webkit-text-stroke:0.25px #ffffff;transform-origin:0 50%;transform:scaleX(0.9812);">Spitzenleistung Heute in Watt</div>
<div class="t" style="left:456.30px;top:711.80px;font-size:12.4px;color:#ffffff;letter-spacing:-0.220px;-webkit-text-stroke:0.25px #ffffff;transform-origin:0 50%;transform:scaleX(0.9659);">2479</div>
<div class="t" style="left:46.00px;top:741.80px;font-size:12.4px;color:#ffffff;letter-spacing:-0.220px;-webkit-text-stroke:0.25px #ffffff;transform-origin:0 50%;transform:scaleX(0.9813);">Homematic. 80 L Wasserboiler</div>
<div class="t" style="left:456.30px;top:741.80px;font-size:12.4px;color:#ffffff;letter-spacing:-0.220px;-webkit-text-stroke:0.25px #ffffff;transform-origin:0 50%;transform:scaleX(0.8755);">EIN</div>
<div class="t" style="left:46.00px;top:771.80px;font-size:12.4px;color:#ffffff;letter-spacing:-0.220px;-webkit-text-stroke:0.25px #ffffff;transform-origin:0 50%;transform:scaleX(0.9779);">Homematic. Elektroheizung</div>
<div class="t" style="left:456.30px;top:771.80px;font-size:12.4px;color:#ffffff;letter-spacing:-0.220px;-webkit-text-stroke:0.25px #ffffff;transform-origin:0 50%;transform:scaleX(0.8784);">AUS</div>
<div class="t" style="left:623.70px;top:771.20px;font-size:11.2px;color:#dddddf;letter-spacing:-0.220px;-webkit-text-stroke:0.3px #dddddf;transform-origin:0 50%;transform:scaleX(0.9228);">0 Wh</div>
<div class="t" style="left:610.10px;top:731.50px;font-size:11.2px;color:#dddddf;letter-spacing:-0.220px;-webkit-text-stroke:0.3px #dddddf;transform-origin:0 50%;transform:scaleX(0.9339);">5.0 kWh</div>
<div class="t" style="left:603.90px;top:691.80px;font-size:11.2px;color:#dddddf;letter-spacing:-0.220px;-webkit-text-stroke:0.3px #dddddf;transform-origin:0 50%;transform:scaleX(0.9470);">10.0 kWh</div>
<div class="t" style="left:603.90px;top:652.40px;font-size:11.2px;color:#dddddf;letter-spacing:-0.220px;-webkit-text-stroke:0.3px #dddddf;transform-origin:0 50%;transform:scaleX(0.9470);">15.0 kWh</div>
<div class="t" style="left:707.35px;top:785.10px;font-size:11.2px;color:#dddddf;letter-spacing:-0.075px;-webkit-text-stroke:0.3px #dddddf;">10/24</div>
<div class="t" style="left:835.00px;top:785.10px;font-size:11.2px;color:#dddddf;letter-spacing:0.016px;-webkit-text-stroke:0.3px #dddddf;">11/1</div>
<div class="t" style="left:942.30px;top:785.10px;font-size:11.2px;color:#dddddf;letter-spacing:0.282px;-webkit-text-stroke:0.3px #dddddf;">11/8</div>
<div class="t" style="left:1063.35px;top:785.10px;font-size:11.2px;color:#dddddf;letter-spacing:0.132px;-webkit-text-stroke:0.3px #dddddf;">11/16</div>
<div class="t" style="left:564.95px;top:718.10px;font-size:11.8px;color:#dddddf;letter-spacing:0.093px;-webkit-text-stroke:0.3px #dddddf;width:39.70px;transform-origin:19.85px 5.90px;transform:rotate(-90deg) scaleX(1.0000);">pro Tag</div>
<div class="t" style="left:1030.00px;top:627.00px;font-size:11.6px;color:#38b0e0;letter-spacing:-0.220px;font-weight:700;-webkit-text-stroke:0.45px #38b0e0;transform-origin:0 50%;transform:scaleX(0.9620);">Last 4 weeks</div>
</body></html>
